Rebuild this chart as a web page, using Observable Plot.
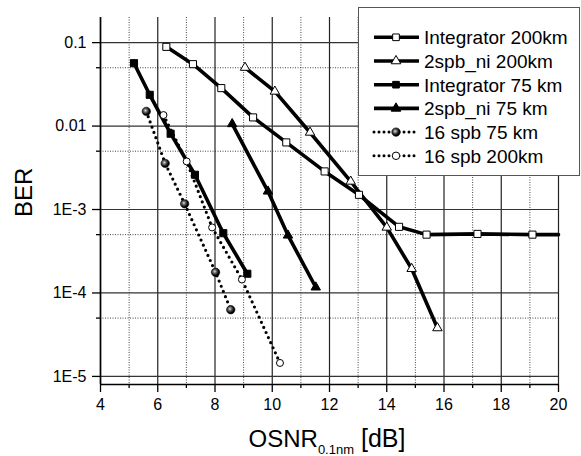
<!DOCTYPE html>
<html><head><meta charset="utf-8">
<script src="https://cdn.jsdelivr.net/npm/d3@7"></script>
<script src="https://cdn.jsdelivr.net/npm/@observablehq/plot@0.6"></script>
<style>
body{margin:0;background:#fff;}
#wrap{width:581px;height:456px;}
</style></head><body><div id="wrap"></div>
<script>
// ---- data ----
const seriesNames = ["Integrator 200km","2spb_ni 200km","Integrator 75 km","2spb_ni 75 km","16 spb 75 km","16 spb 200km"];

const int200X = [6.30, 7.23, 8.22, 9.33, 10.49, 11.83, 13.03, 14.43, 15.39, 17.17, 19.09, 20];
const int200Y = [0.089, 0.0552, 0.0285, 0.0127, 0.00637, 0.00286, 0.0015, 6.2e-4, 5.0e-4, 5.1e-4, 5.0e-4, 5.0e-4];

const spb200X = [9.05, 10.09, 11.32, 12.74, 14.0, 14.87, 15.77];
const spb200Y = [0.0502, 0.026, 0.00838, 0.00217, 6.1e-4, 1.95e-4, 3.8e-5];

const int75X = [5.17, 5.72, 6.45, 7.30, 8.29, 9.13];
const int75Y = [0.0567, 0.0237, 0.0081, 0.00261, 5.2e-4, 1.7e-4];

const spb75X = [8.60, 9.85, 10.55, 11.52];
const spb75Y = [0.0106, 0.00165, 4.9e-4, 1.17e-4];

const s16_75X = [5.60, 6.26, 6.94, 8.02, 8.55];
const s16_75Y = [0.0150, 0.00357, 0.00117, 1.77e-4, 6.3e-5];

const s16_200X = [6.20, 7.01, 7.90, 8.94, 10.27];
const s16_200Y = [0.01355, 0.00377, 6.1e-4, 1.45e-4, 1.45e-5];

const xDomain = [4, 20];
const yDomain = [8e-6, 0.2];
const xMajor = [4, 6, 8, 10, 12, 14, 16, 18, 20];
const xMinor = [5, 7, 9, 11, 13, 15, 17, 19];
const yMajor = [0.1, 0.01, 1e-3, 1e-4, 1e-5];
const yTickLabels = ["0.1", "0.01", "1E-3", "1E-4", "1E-5"];
const yMinor = [0.05, 0.005, 5e-4, 5e-5];

const xLabelMain = "OSNR", xLabelSub = "0.1nm", xLabelUnit = " [dB]";
const yLabel = "BER";

// ---- build tables ----
const rows = (xs, ys, name) => xs.map((x, i) => ({x, y: ys[i], series: name}));
const dInt200 = rows(int200X, int200Y, seriesNames[0]);
const dSpb200 = rows(spb200X, spb200Y, seriesNames[1]);
const dInt75 = rows(int75X, int75Y, seriesNames[2]);
const dSpb75 = rows(spb75X, spb75Y, seriesNames[3]);
const dS16_75 = rows(s16_75X, s16_75Y, seriesNames[4]);
const dS16_200 = rows(s16_200X, s16_200Y, seriesNames[5]);

const FONT = "'Liberation Sans', Arial, Helvetica, sans-serif";
const solid = {x: "x", y: "y", stroke: "#000", strokeWidth: 3.6};
const dotted = {x: "x", y: "y", stroke: "#000", strokeWidth: 3.2, strokeDasharray: "0,5.6", strokeLinecap: "round"};
const inFrame = d => d.x < xDomain[1];

const plot = Plot.plot({
  width: 581, height: 456,
  marginLeft: 100, marginRight: 23, marginTop: 17, marginBottom: 72,
  style: {fontFamily: FONT, fontSize: "16px", color: "#000", background: "#fff"},
  x: {domain: xDomain},
  y: {type: "log", domain: yDomain},
  marks: [
    Plot.gridX(xMinor, {stroke: "#444", strokeOpacity: 1, strokeDasharray: "1,1.5"}),
    Plot.gridY(yMinor, {stroke: "#444", strokeOpacity: 1, strokeDasharray: "1,1.5"}),
    Plot.gridX(xMajor, {stroke: "#222", strokeOpacity: 1, strokeWidth: 1.2}),
    Plot.gridY(yMajor, {stroke: "#333", strokeOpacity: 1, strokeWidth: 1.2}),
    Plot.ruleX([xDomain[0]], {stroke: "#000", strokeWidth: 1.6}),
    Plot.ruleY([yDomain[0]], {stroke: "#000", strokeWidth: 1.6}),
    Plot.axisX(xMajor, {tickSize: 8, tickPadding: 6, fontSize: 16, label: null, strokeWidth: 1.3}),
    Plot.axisX(xMinor, {tickSize: 4, tickFormat: () => "", label: null, strokeWidth: 1.3}),
    Plot.axisY(yMajor, {tickSize: 8, tickPadding: 6, fontSize: 16, label: null, strokeWidth: 1.3,
      tickFormat: d => yTickLabels[yMajor.indexOf(d)]}),
    Plot.axisY(yMinor, {tickSize: 4, tickFormat: () => "", label: null, strokeWidth: 1.3}),

    Plot.line(dInt200, solid),
    Plot.line(dSpb200, solid),
    Plot.line(dInt75, solid),
    Plot.line(dSpb75, solid),
    Plot.line(dS16_75, dotted),
    Plot.line(dS16_200, dotted),

    Plot.dot(dInt200, {x: "x", y: "y", filter: inFrame, symbol: "square", r: 4, fill: "#fff", stroke: "#000", strokeWidth: 1}),
    Plot.dot(dSpb200, {x: "x", y: "y", symbol: "triangle", r: 3.5, fill: "#fff", stroke: "#000", strokeWidth: 1}),
    Plot.dot(dInt75, {x: "x", y: "y", symbol: "square", r: 4, fill: "#000", stroke: "#000", strokeWidth: 1}),
    Plot.dot(dSpb75, {x: "x", y: "y", symbol: "triangle", r: 3.5, fill: "#000", stroke: "#000", strokeWidth: 1}),
    Plot.dot(dS16_75, {x: "x", y: "y", r: 4.2, fill: "url(#sph)", stroke: "#000", strokeWidth: 0.6}),
    Plot.dot(dS16_200, {x: "x", y: "y", r: 3.5, fill: "#fff", stroke: "#000", strokeWidth: 1}),

    Plot.text([yLabel], {text: d => d, frameAnchor: "left", dx: -76, dy: 16, rotate: -90, fontSize: 24, fill: "#000"})
  ]
});

document.getElementById("wrap").appendChild(plot);
const svg = d3.select(plot);

// sphere gradient
const defs = svg.insert("defs", ":first-child");
const g = defs.append("radialGradient").attr("id", "sph").attr("cx", "40%").attr("cy", "40%").attr("r", "60%");
g.append("stop").attr("offset", "0%").attr("stop-color", "#e0e0e0");
g.append("stop").attr("offset", "35%").attr("stop-color", "#666");
g.append("stop").attr("offset", "80%").attr("stop-color", "#000");

// x axis label with subscript
const xl = svg.append("text").attr("x", 327).attr("y", 446.5).attr("text-anchor", "middle")
  .attr("font-family", FONT).attr("fill", "#000").attr("font-size", 24);
xl.append("tspan").text(xLabelMain);
xl.append("tspan").attr("font-size", 13).attr("dy", 7).text(xLabelSub);
xl.append("tspan").attr("font-size", 25).attr("dy", -7).text(xLabelUnit);

// legend box
const lg = svg.append("g").attr("font-family", FONT).attr("font-size", 19).attr("text-anchor", "start");
lg.append("rect").attr("x", 358.5).attr("y", 7.5).attr("width", 221).attr("height", 168)
  .attr("fill", "#fff").attr("stroke", "#555").attr("stroke-width", 1);
const legendStyles = [
  {dash: null, sym: "square", fill: "#fff"},
  {dash: null, sym: "triangle", fill: "#fff"},
  {dash: null, sym: "square", fill: "#000"},
  {dash: null, sym: "triangle", fill: "#000"},
  {dash: "0,5", sym: "sphere", fill: "url(#sph)"},
  {dash: "0,5", sym: "circle", fill: "#fff"}
];
seriesNames.forEach((name, i) => {
  const y = 37.3 + i * 23.7;
  const st = legendStyles[i];
  const ln = lg.append("line").attr("x1", 374).attr("x2", 419).attr("y1", y).attr("y2", y)
    .attr("stroke", "#000");
  if (st.dash) ln.attr("stroke-width", 3).attr("stroke-dasharray", st.dash).attr("stroke-linecap", "round");
  else ln.attr("stroke-width", 3.6);
  let path;
  if (st.sym === "square") path = d3.symbol(d3.symbolSquare, 44)();
  else if (st.sym === "triangle") path = d3.symbol(d3.symbolTriangle, 40)();
  else path = d3.symbol(d3.symbolCircle, st.sym === "sphere" ? 56 : 44)();
  lg.append("path").attr("d", path).attr("transform", `translate(396,${y})`)
    .attr("fill", st.fill).attr("stroke", "#000").attr("stroke-width", st.sym === "sphere" ? 0.6 : 1);
  lg.append("text").attr("x", 424).attr("y", y).attr("dy", "0.36em").attr("fill", "#000").text(name);
});
</script>
</body></html>
